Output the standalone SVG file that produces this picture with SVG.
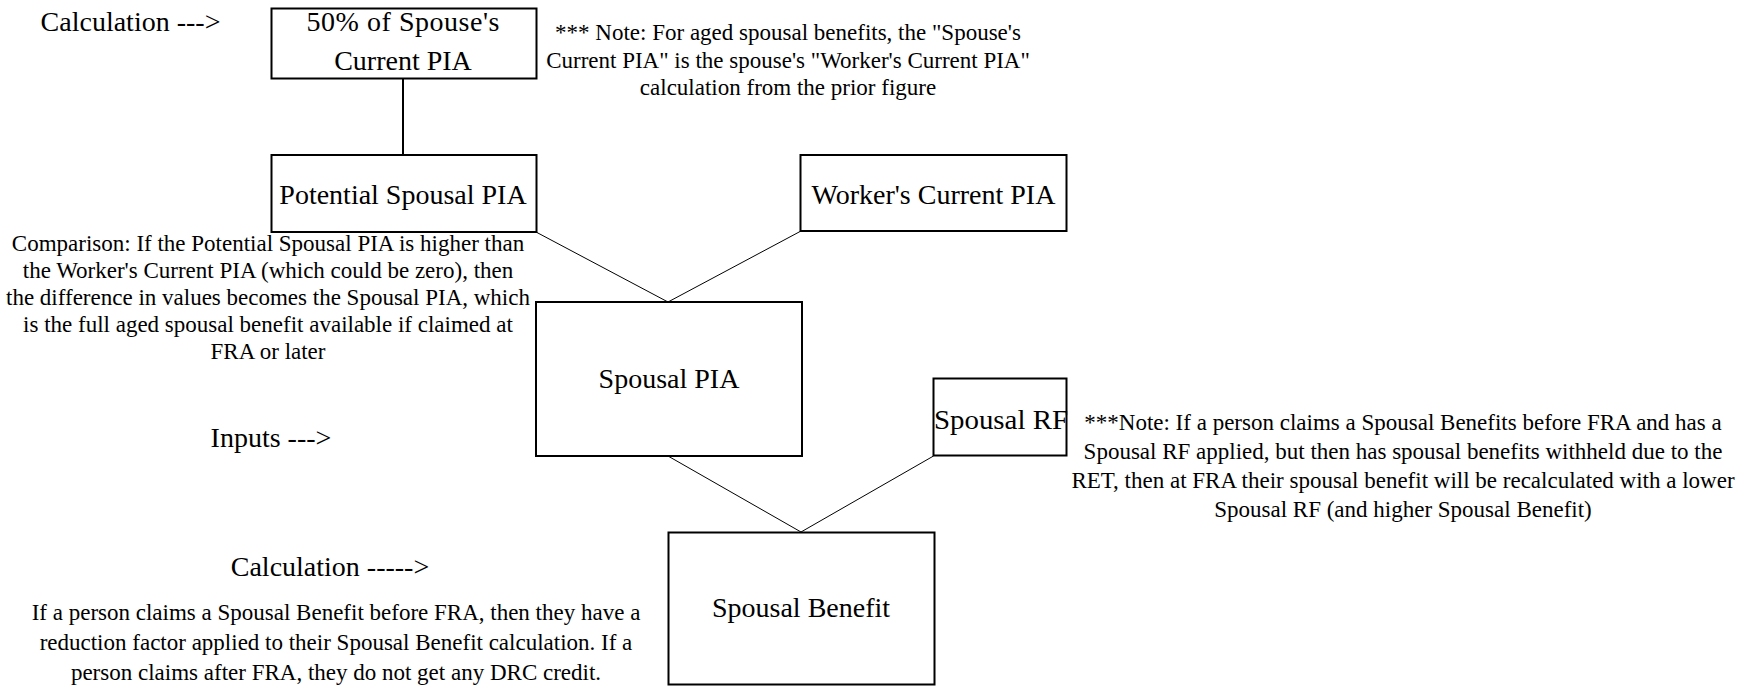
<svg xmlns="http://www.w3.org/2000/svg" width="1743" height="686" viewBox="0 0 1743 686">
<style>
  .box { fill: #ffffff; stroke: #000000; stroke-width: 2; }
  .lbl { font-family: "Liberation Serif", "Times New Roman", serif; font-size: 28px; fill: #000000; text-anchor: middle; }
  .note { font-family: "Liberation Serif", "Times New Roman", serif; font-size: 23px; fill: #000000; text-anchor: middle; }
  .conn { stroke: #000000; stroke-width: 1; fill: none; }
  .conn2 { stroke: #000000; stroke-width: 2; fill: none; }
</style>
<rect width="1743" height="686" fill="#ffffff"/>

<g id="connectors">
  <line class="conn2" x1="403" y1="78" x2="403" y2="155"/>
  <line class="conn" x1="536" y1="232" x2="668" y2="302"/>
  <line class="conn" x1="801" y1="231" x2="668" y2="302"/>
  <line class="conn" x1="668" y1="456" x2="801" y2="532"/>
  <line class="conn" x1="933.5" y1="456" x2="801" y2="532"/>
</g>

<g id="node-half-spouse-pia">
  <rect class="box" x="271.5" y="8.5" width="265" height="70"/>
  <text class="lbl" x="403" y="31" textLength="193" lengthAdjust="spacing">50% of Spouse's</text>
  <text class="lbl" x="403" y="70">Current PIA</text>
</g>

<g id="node-potential-spousal-pia">
  <rect class="box" x="271.5" y="155" width="265" height="77"/>
  <text class="lbl" x="403" y="204">Potential Spousal PIA</text>
</g>

<g id="node-worker-current-pia">
  <rect class="box" x="800.5" y="155" width="266" height="76"/>
  <text class="lbl" x="933.5" y="204">Worker's Current PIA</text>
</g>

<g id="node-spousal-pia">
  <rect class="box" x="536" y="302" width="266" height="154"/>
  <text class="lbl" x="669" y="388">Spousal PIA</text>
</g>

<g id="node-spousal-rf">
  <text class="lbl" x="934" y="429" style="text-anchor:start" textLength="134" lengthAdjust="spacingAndGlyphs">Spousal RF</text>
  <rect x="933.5" y="378.5" width="133" height="77" fill="none" stroke="#000" stroke-width="2"/>
</g>

<g id="node-spousal-benefit">
  <rect class="box" x="668.5" y="532.5" width="266" height="152"/>
  <text class="lbl" x="801" y="617">Spousal Benefit</text>
</g>

<g id="annotations">
  <text class="lbl" x="130.5" y="31">Calculation ---&gt;</text>
  <text class="lbl" x="271" y="447">Inputs ---&gt;</text>
  <text class="lbl" x="330" y="576">Calculation -----&gt;</text>

  <text class="note" x="788" y="40">*** Note: For aged spousal benefits, the "Spouse's</text>
  <text class="note" x="788" y="68">Current PIA" is the spouse's "Worker's Current PIA"</text>
  <text class="note" x="788" y="95">calculation from the prior figure</text>

  <text class="note" x="268" y="251">Comparison: If the Potential Spousal PIA is higher than</text>
  <text class="note" x="268" y="278">the Worker's Current PIA (which could be zero), then</text>
  <text class="note" x="268" y="305">the difference in values becomes the Spousal PIA, which</text>
  <text class="note" x="268" y="332">is the full aged spousal benefit available if claimed at</text>
  <text class="note" x="268" y="359">FRA or later</text>

  <text class="note" x="1403" y="430">***Note: If a person claims a Spousal Benefits before FRA and has a</text>
  <text class="note" x="1403" y="459">Spousal RF applied, but then has spousal benefits withheld due to the</text>
  <text class="note" x="1403" y="488">RET, then at FRA their spousal benefit will be recalculated with a lower</text>
  <text class="note" x="1403" y="517">Spousal RF (and higher Spousal Benefit)</text>

  <text class="note" x="336" y="620">If a person claims a Spousal Benefit before FRA, then they have a</text>
  <text class="note" x="336" y="650">reduction factor applied to their Spousal Benefit calculation.  If a</text>
  <text class="note" x="336" y="680">person claims after FRA, they do not get any DRC credit.</text>
</g>
</svg>
